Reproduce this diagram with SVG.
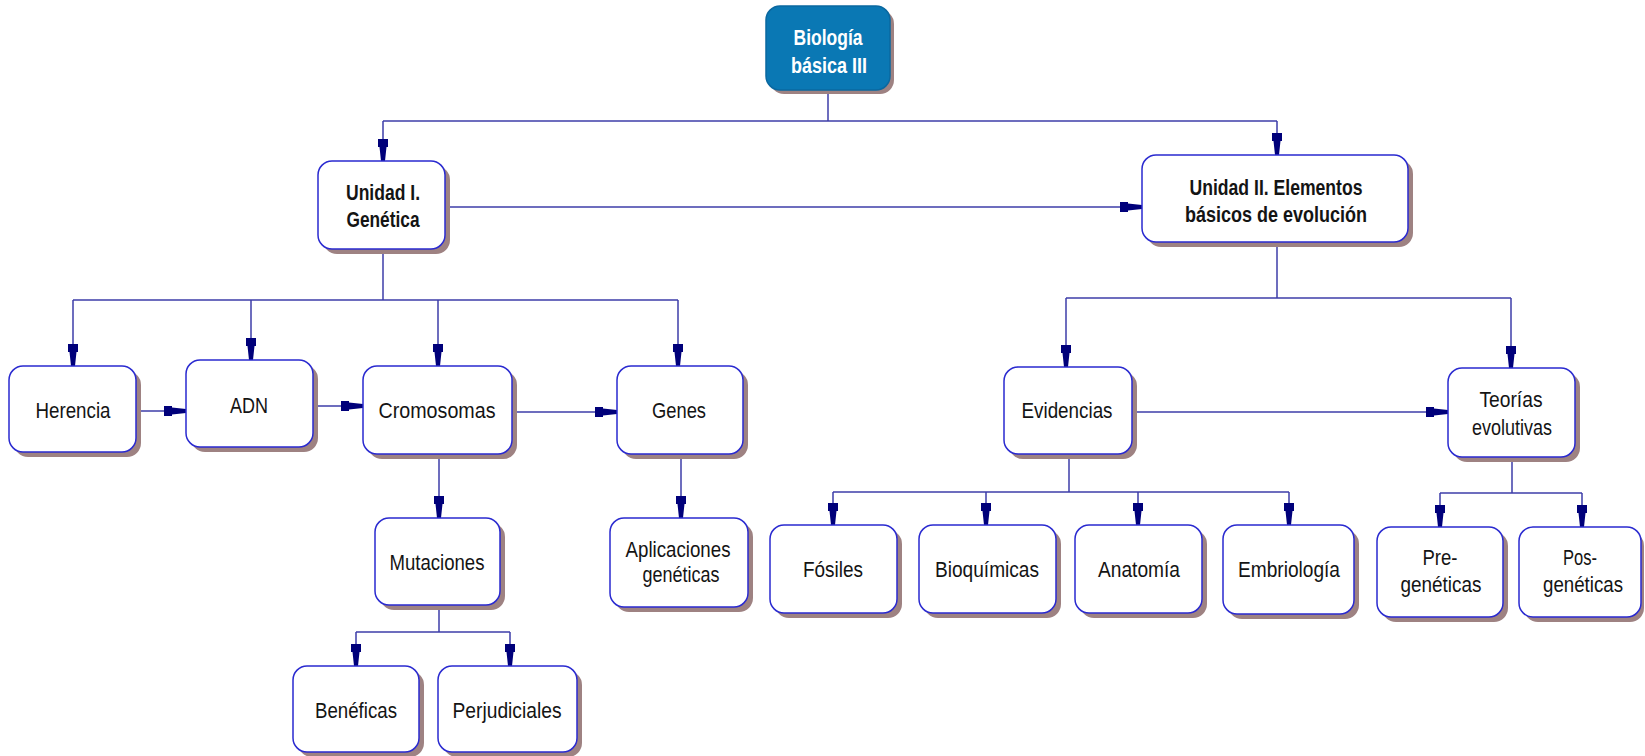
<svg xmlns="http://www.w3.org/2000/svg" width="1645" height="756" viewBox="0 0 1645 756">
<style>
.sh{fill:#9e8282}
.bx{fill:#ffffff;stroke:#2a2ad0;stroke-width:1.5}
.top{fill:#0a78b4;stroke:#0a68a0;stroke-width:1.5}
text{font-family:"Liberation Sans",Arial,sans-serif;font-size:22px;fill:#141414;text-anchor:middle}
.b{font-weight:bold}
.w{fill:#ffffff;font-weight:bold}
.c{fill:none;stroke:#3c3ca8;stroke-width:1.5}
</style>
<defs>
<marker id="ar" markerUnits="userSpaceOnUse" viewBox="-23 -6 24 12" refX="0" refY="0" markerWidth="24" markerHeight="12" orient="auto">
<path d="M0,-2 L-14,-3.5 L-14,-5 L-22,-5 L-22,5 L-14,5 L-14,3.5 L0,2 Z" fill="#00007a"/>
</marker>
</defs>
<g id="connectors">
<path class="c" d="M828,90 V121"/>
<path class="c" d="M383,121 H1277"/>
<path class="c" d="M383,121 V161" marker-end="url(#ar)"/>
<path class="c" d="M1277,121 V155" marker-end="url(#ar)"/>
<path class="c" d="M445,207 H1142" marker-end="url(#ar)"/>
<path class="c" d="M383,249 V300"/>
<path class="c" d="M73,300 H678"/>
<path class="c" d="M73,300 V366" marker-end="url(#ar)"/>
<path class="c" d="M251,300 V360" marker-end="url(#ar)"/>
<path class="c" d="M438,300 V366" marker-end="url(#ar)"/>
<path class="c" d="M678,300 V366" marker-end="url(#ar)"/>
<path class="c" d="M136,411 H186" marker-end="url(#ar)"/>
<path class="c" d="M313,406 H363" marker-end="url(#ar)"/>
<path class="c" d="M512,412 H617" marker-end="url(#ar)"/>
<path class="c" d="M439,454 V518" marker-end="url(#ar)"/>
<path class="c" d="M681,454 V518" marker-end="url(#ar)"/>
<path class="c" d="M439,605 V632"/>
<path class="c" d="M356,632 H510"/>
<path class="c" d="M356,632 V666" marker-end="url(#ar)"/>
<path class="c" d="M510,632 V666" marker-end="url(#ar)"/>
<path class="c" d="M1277,242 V298"/>
<path class="c" d="M1066,298 H1511"/>
<path class="c" d="M1066,298 V367" marker-end="url(#ar)"/>
<path class="c" d="M1511,298 V368" marker-end="url(#ar)"/>
<path class="c" d="M1132,412 H1448" marker-end="url(#ar)"/>
<path class="c" d="M1069,454 V492"/>
<path class="c" d="M833,492 H1289"/>
<path class="c" d="M833,492 V525" marker-end="url(#ar)"/>
<path class="c" d="M986,492 V525" marker-end="url(#ar)"/>
<path class="c" d="M1138,492 V525" marker-end="url(#ar)"/>
<path class="c" d="M1289,492 V525" marker-end="url(#ar)"/>
<path class="c" d="M1512,457 V493"/>
<path class="c" d="M1440,493 H1582"/>
<path class="c" d="M1440,493 V527" marker-end="url(#ar)"/>
<path class="c" d="M1582,493 V527" marker-end="url(#ar)"/>
</g>
<g id="n-biologia">
<rect class="sh" x="770" y="10" width="124" height="84" rx="14"/>
<rect class="top" x="766" y="6" width="124" height="84" rx="14"/>
<text class="w" x="828" y="45" textLength="69" lengthAdjust="spacingAndGlyphs">Biología</text>
<text class="w" x="829" y="73" textLength="76" lengthAdjust="spacingAndGlyphs">básica III</text>
</g>
<g id="n-unidad1">
<rect class="sh" x="323" y="166" width="127" height="88" rx="14"/>
<rect class="bx" x="318" y="161" width="127" height="88" rx="14"/>
<text class="b" x="383" y="200" textLength="74" lengthAdjust="spacingAndGlyphs">Unidad I.</text>
<text class="b" x="383" y="227" textLength="73" lengthAdjust="spacingAndGlyphs">Genética</text>
</g>
<g id="n-unidad2">
<rect class="sh" x="1147" y="160" width="266" height="87" rx="14"/>
<rect class="bx" x="1142" y="155" width="266" height="87" rx="14"/>
<text class="b" x="1276" y="195" textLength="173" lengthAdjust="spacingAndGlyphs">Unidad II. Elementos</text>
<text class="b" x="1276" y="222" textLength="182" lengthAdjust="spacingAndGlyphs">básicos de evolución</text>
</g>
<g id="n-herencia">
<rect class="sh" x="14" y="371" width="127" height="86" rx="14"/>
<rect class="bx" x="9" y="366" width="127" height="86" rx="14"/>
<text x="73" y="418" textLength="75" lengthAdjust="spacingAndGlyphs">Herencia</text>
</g>
<g id="n-adn">
<rect class="sh" x="191" y="365" width="127" height="87" rx="14"/>
<rect class="bx" x="186" y="360" width="127" height="87" rx="14"/>
<text x="249" y="413" textLength="38" lengthAdjust="spacingAndGlyphs">ADN</text>
</g>
<g id="n-cromosomas">
<rect class="sh" x="368" y="371" width="149" height="88" rx="14"/>
<rect class="bx" x="363" y="366" width="149" height="88" rx="14"/>
<text x="437" y="418" textLength="117" lengthAdjust="spacingAndGlyphs">Cromosomas</text>
</g>
<g id="n-genes">
<rect class="sh" x="622" y="371" width="126" height="88" rx="14"/>
<rect class="bx" x="617" y="366" width="126" height="88" rx="14"/>
<text x="679" y="418" textLength="54" lengthAdjust="spacingAndGlyphs">Genes</text>
</g>
<g id="n-mutaciones">
<rect class="sh" x="380" y="523" width="125" height="87" rx="14"/>
<rect class="bx" x="375" y="518" width="125" height="87" rx="14"/>
<text x="437" y="570" textLength="95" lengthAdjust="spacingAndGlyphs">Mutaciones</text>
</g>
<g id="n-aplicaciones">
<rect class="sh" x="615" y="523" width="138" height="89" rx="14"/>
<rect class="bx" x="610" y="518" width="138" height="89" rx="14"/>
<text x="678" y="557" textLength="105" lengthAdjust="spacingAndGlyphs">Aplicaciones</text>
<text x="681" y="582" textLength="77" lengthAdjust="spacingAndGlyphs">genéticas</text>
</g>
<g id="n-beneficas">
<rect class="sh" x="298" y="671" width="126" height="86" rx="14"/>
<rect class="bx" x="293" y="666" width="126" height="86" rx="14"/>
<text x="356" y="718" textLength="82" lengthAdjust="spacingAndGlyphs">Benéficas</text>
</g>
<g id="n-perjudiciales">
<rect class="sh" x="443" y="671" width="139" height="86" rx="14"/>
<rect class="bx" x="438" y="666" width="139" height="86" rx="14"/>
<text x="507" y="718" textLength="109" lengthAdjust="spacingAndGlyphs">Perjudiciales</text>
</g>
<g id="n-evidencias">
<rect class="sh" x="1009" y="372" width="128" height="87" rx="14"/>
<rect class="bx" x="1004" y="367" width="128" height="87" rx="14"/>
<text x="1067" y="418" textLength="91" lengthAdjust="spacingAndGlyphs">Evidencias</text>
</g>
<g id="n-teorias">
<rect class="sh" x="1453" y="373" width="127" height="89" rx="14"/>
<rect class="bx" x="1448" y="368" width="127" height="89" rx="14"/>
<text x="1511" y="407" textLength="63" lengthAdjust="spacingAndGlyphs">Teorías</text>
<text x="1512" y="435" textLength="80" lengthAdjust="spacingAndGlyphs">evolutivas</text>
</g>
<g id="n-fosiles">
<rect class="sh" x="775" y="530" width="127" height="88" rx="14"/>
<rect class="bx" x="770" y="525" width="127" height="88" rx="14"/>
<text x="833" y="577" textLength="60" lengthAdjust="spacingAndGlyphs">Fósiles</text>
</g>
<g id="n-bioquimicas">
<rect class="sh" x="924" y="530" width="137" height="88" rx="14"/>
<rect class="bx" x="919" y="525" width="137" height="88" rx="14"/>
<text x="987" y="577" textLength="104" lengthAdjust="spacingAndGlyphs">Bioquímicas</text>
</g>
<g id="n-anatomia">
<rect class="sh" x="1080" y="530" width="127" height="88" rx="14"/>
<rect class="bx" x="1075" y="525" width="127" height="88" rx="14"/>
<text x="1139" y="577" textLength="82" lengthAdjust="spacingAndGlyphs">Anatomía</text>
</g>
<g id="n-embriologia">
<rect class="sh" x="1228" y="530" width="131" height="89" rx="14"/>
<rect class="bx" x="1223" y="525" width="131" height="89" rx="14"/>
<text x="1289" y="577" textLength="102" lengthAdjust="spacingAndGlyphs">Embriología</text>
</g>
<g id="n-pre">
<rect class="sh" x="1382" y="532" width="126" height="90" rx="14"/>
<rect class="bx" x="1377" y="527" width="126" height="90" rx="14"/>
<text x="1440" y="565" textLength="35" lengthAdjust="spacingAndGlyphs">Pre-</text>
<text x="1441" y="592" textLength="81" lengthAdjust="spacingAndGlyphs">genéticas</text>
</g>
<g id="n-pos">
<rect class="sh" x="1524" y="532" width="120" height="90" rx="14"/>
<rect class="bx" x="1519" y="527" width="122" height="90" rx="14"/>
<text x="1580" y="565" textLength="34" lengthAdjust="spacingAndGlyphs">Pos-</text>
<text x="1583" y="592" textLength="80" lengthAdjust="spacingAndGlyphs">genéticas</text>
</g>
</svg>
